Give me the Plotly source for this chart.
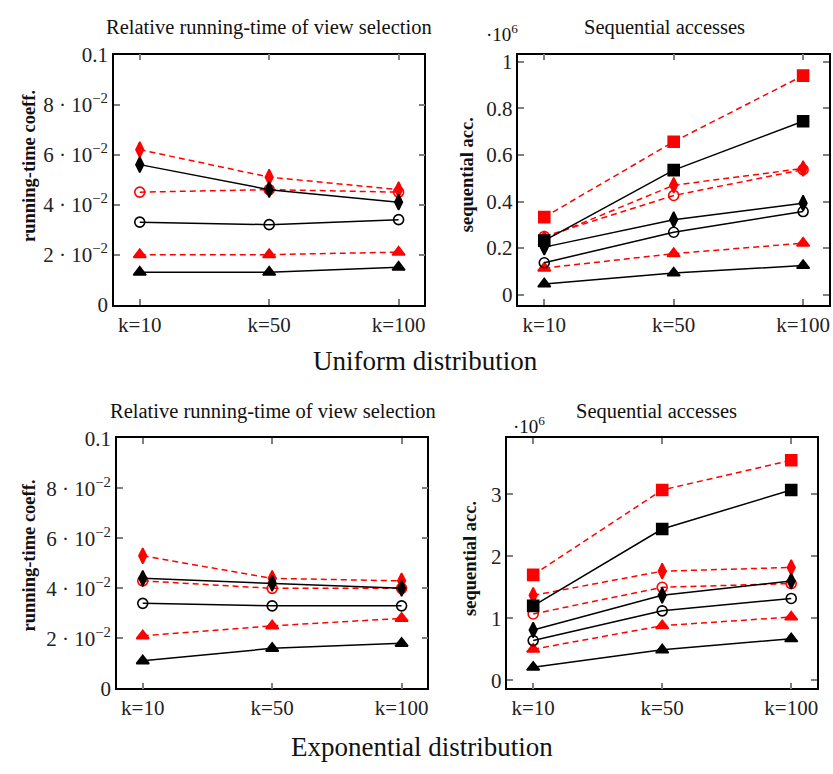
import plotly.graph_objects as go

# ---------------------------------------------------------------- data
ks = ["k=10", "k=50", "k=100"]

# Uniform distribution: relative running-time coefficient
uni_rt_tri_solid = [0.013, 0.013, 0.015]
uni_rt_tri_dash = [0.020, 0.020, 0.021]
uni_rt_circ_solid = [0.033, 0.032, 0.034]
uni_rt_dia_solid = [0.056, 0.046, 0.041]
uni_rt_circ_dash = [0.045, 0.046, 0.045]
uni_rt_dia_dash = [0.062, 0.051, 0.046]

# Uniform distribution: sequential accesses (x 10^6)
uni_sa_tri_solid = [0.046, 0.093, 0.125]
uni_sa_tri_dash = [0.114, 0.176, 0.221]
uni_sa_circ_solid = [0.137, 0.268, 0.357]
uni_sa_dia_solid = [0.204, 0.322, 0.393]
uni_sa_sq_solid = [0.232, 0.535, 0.745]
uni_sa_circ_dash = [0.250, 0.426, 0.537]
uni_sa_dia_dash = [0.240, 0.470, 0.542]
uni_sa_sq_dash = [0.333, 0.657, 0.941]

# Exponential distribution: relative running-time coefficient
exp_rt_tri_solid = [0.011, 0.016, 0.018]
exp_rt_tri_dash = [0.021, 0.025, 0.028]
exp_rt_circ_solid = [0.034, 0.033, 0.033]
exp_rt_dia_solid = [0.044, 0.042, 0.040]
exp_rt_circ_dash = [0.043, 0.040, 0.040]
exp_rt_dia_dash = [0.053, 0.044, 0.043]

# Exponential distribution: sequential accesses (x 10^6)
exp_sa_tri_solid = [0.21, 0.49, 0.67]
exp_sa_tri_dash = [0.50, 0.88, 1.02]
exp_sa_circ_solid = [0.64, 1.12, 1.32]
exp_sa_dia_solid = [0.81, 1.37, 1.60]
exp_sa_sq_solid = [1.20, 2.44, 3.07]
exp_sa_circ_dash = [1.07, 1.50, 1.56]
exp_sa_dia_dash = [1.37, 1.76, 1.82]
exp_sa_sq_dash = [1.70, 3.07, 3.55]

rt_ticks = [0, 0.02, 0.04, 0.06, 0.08, 0.1]
rt_ticktext = ["0", "2 · 10<sup>−2</sup>", "4 · 10<sup>−2</sup>",
               "6 · 10<sup>−2</sup>", "8 · 10<sup>−2</sup>", "0.1"]
uni_sa_ticks = [0, 0.2, 0.4, 0.6, 0.8, 1]
uni_sa_ticktext = ["0", "0.2", "0.4", "0.6", "0.8", "1"]
exp_sa_ticks = [0, 1, 2, 3]
exp_sa_ticktext = ["0", "1", "2", "3"]

# ---------------------------------------------------------------- styling
W, H = 833, 774
FONT = "Liberation Serif"
RED = "#ff0000"
BLACK = "#000000"

MARK = {
    "tri": dict(symbol="triangle-up", size=11),
    "circ": dict(symbol="circle-open", size=10),
    "dia": dict(symbol="diamond-tall", size=11),
    "sq": dict(symbol="square", size=11),
}


def px_x(p):
    return p / W


def px_y(p):
    return 1 - p / H


fig = go.Figure()


def add_series(values, kind, dashed, xa, ya):
    color = RED if dashed else BLACK
    m = dict(MARK[kind])
    m["color"] = color
    m["line"] = dict(color=color, width=1.6)
    fig.add_trace(go.Scatter(
        x=ks, y=values, mode="lines+markers",
        line=dict(color=color, width=1.5, dash="6px,4px" if dashed else "solid"),
        marker=m, showlegend=False, xaxis=xa, yaxis=ya,
        cliponaxis=False,
    ))


panels = [
    # (xaxis, yaxis, series list)
    ("x", "y", [
        (uni_rt_tri_dash, "tri", True), (uni_rt_circ_dash, "circ", True),
        (uni_rt_dia_dash, "dia", True),
        (uni_rt_tri_solid, "tri", False), (uni_rt_circ_solid, "circ", False),
        (uni_rt_dia_solid, "dia", False),
    ]),
    ("x2", "y2", [
        (uni_sa_tri_dash, "tri", True), (uni_sa_circ_dash, "circ", True),
        (uni_sa_dia_dash, "dia", True), (uni_sa_sq_dash, "sq", True),
        (uni_sa_tri_solid, "tri", False), (uni_sa_circ_solid, "circ", False),
        (uni_sa_dia_solid, "dia", False), (uni_sa_sq_solid, "sq", False),
    ]),
    ("x3", "y3", [
        (exp_rt_tri_dash, "tri", True), (exp_rt_circ_dash, "circ", True),
        (exp_rt_dia_dash, "dia", True),
        (exp_rt_tri_solid, "tri", False), (exp_rt_circ_solid, "circ", False),
        (exp_rt_dia_solid, "dia", False),
    ]),
    ("x4", "y4", [
        (exp_sa_tri_dash, "tri", True), (exp_sa_circ_dash, "circ", True),
        (exp_sa_dia_dash, "dia", True), (exp_sa_sq_dash, "sq", True),
        (exp_sa_tri_solid, "tri", False), (exp_sa_circ_solid, "circ", False),
        (exp_sa_dia_solid, "dia", False), (exp_sa_sq_solid, "sq", False),
    ]),
]

for xa, ya, series in panels:
    for vals, kind, dashed in series:
        add_series(vals, kind, dashed, xa, ya)

# axis boxes (pixel extents) and ranges
boxes = {
    1: dict(x=(114, 425), y=(44, 302), yr=[0, 0.1], tv=rt_ticks, tt=rt_ticktext),
    2: dict(x=(519, 830), y=(44, 302), yr=[-0.043, 1.031], tv=uni_sa_ticks, tt=uni_sa_ticktext),
    3: dict(x=(117, 428), y=(440, 698), yr=[0, 0.1], tv=rt_ticks, tt=rt_ticktext),
    4: dict(x=(508, 818), y=(440, 698), yr=[-0.131, 3.903], tv=exp_sa_ticks, tt=exp_sa_ticktext),
}

tickfont = dict(family=FONT, size=21, color="#222222")
layout_axes = {}
for i, b in boxes.items():
    sx = "" if i == 1 else str(i)
    common = dict(
        showline=True, linecolor="black", linewidth=1.5, mirror="allticks",
        ticks="inside", ticklen=6, tickwidth=2.2, tickcolor="#808080",
        showgrid=False, zeroline=False, tickfont=tickfont,
    )
    layout_axes["xaxis" + sx] = dict(
        common, domain=[px_x(b["x"][0]), px_x(b["x"][1])],
        anchor="y" + sx, type="category", range=[-0.2, 2.2],
        tickvals=ks, ticktext=ks,
    )
    layout_axes["yaxis" + sx] = dict(
        common, domain=[px_y(b["y"][1]), px_y(b["y"][0])],
        anchor="x" + sx, range=b["yr"], tickvals=b["tv"], ticktext=b["tt"],
    )

fig.update_layout(**layout_axes)

annotations = []


def text(x, y, s, size=18, bold=False, angle=0, xanchor="center"):
    if bold:
        s = "<b>" + s + "</b>"
    annotations.append(dict(
        x=px_x(x), y=px_y(y), xref="paper", yref="paper", text=s,
        showarrow=False, textangle=angle, xanchor=xanchor, yanchor="middle",
        font=dict(family=FONT, size=size, color="#111111"),
    ))


# panel titles
text(269, 16, "Relative running-time of view selection", size=20.5)
text(665, 16, "Sequential accesses", size=20.5)
text(273, 412, "Relative running-time of view selection", size=20.5)
text(657, 412, "Sequential accesses", size=20.5)

# axis titles
text(29, 159, "running-time coeff.", size=18.5, bold=True, angle=-90)
text(467, 168, "sequential acc.", size=18.5, bold=True, angle=-90)
text(29, 561, "running-time coeff.", size=18.5, bold=True, angle=-90)
text(470, 564, "sequential acc.", size=18.5, bold=True, angle=-90)

# exponent labels
text(503, 22, "·10<sup>6</sup>", size=19)
text(530, 426, "·10<sup>6</sup>", size=19)

# distribution captions
text(426, 360, "Uniform distribution", size=27)
text(423, 759, "Exponential distribution", size=27)

fig.update_layout(
    width=W, height=H, margin=dict(l=0, r=0, t=0, b=0),
    paper_bgcolor="white", plot_bgcolor="white",
    annotations=annotations, showlegend=False,
)

fig.write_html("out.html")
